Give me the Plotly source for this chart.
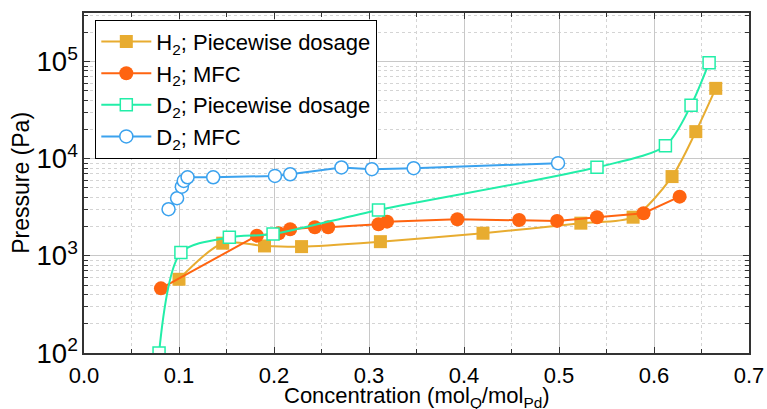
import plotly.graph_objects as go

# Hydrogen, piecewise dosage
h2_pw_x = [0.100, 0.146, 0.190, 0.229, 0.312, 0.420, 0.523, 0.578, 0.619, 0.644, 0.665]
h2_pw_p = [574, 1350, 1265, 1245, 1400, 1710, 2170, 2500, 6550, 19000, 53000]

# Hydrogen, mass flow controller
h2_mfc_x = [0.081, 0.182, 0.205, 0.217, 0.243, 0.257, 0.310, 0.319, 0.393, 0.458, 0.498, 0.540, 0.589, 0.627]
h2_mfc_p = [463, 1615, 1710, 1880, 1970, 1970, 2115, 2250, 2380, 2340, 2290, 2500, 2750, 4070]

# Deuterium, piecewise dosage
d2_pw_x = [0.079, 0.102, 0.153, 0.199, 0.310, 0.540, 0.612, 0.639, 0.658]
d2_pw_p = [100, 1080, 1550, 1680, 2970, 8150, 13600, 35500, 97500]

# Deuterium, mass flow controller
d2_mfc_x = [0.089, 0.098, 0.103, 0.105, 0.109, 0.136, 0.201, 0.217, 0.271, 0.303, 0.347, 0.499]
d2_mfc_p = [3020, 3920, 5160, 5910, 6440, 6440, 6650, 6920, 8130, 7800, 7980, 9000]

X_TITLE = "Concentration (mol<sub>Q</sub>/mol<sub>Pd</sub>)"
Y_TITLE = "Pressure (Pa)"

GOLD = "#E8AC30"
ORANGE = "#FF6410"
TEAL = "#22EEA8"
BLUE = "#3BA2EE"

fig = go.Figure()

fig.add_trace(go.Scatter(
    x=h2_pw_x, y=h2_pw_p, mode="lines+markers", name="H<sub>2</sub>; Piecewise dosage",
    line=dict(color=GOLD, width=2, shape="spline", smoothing=0.8),
    marker=dict(symbol="square", size=13, color=GOLD, line=dict(width=0)),
))
fig.add_trace(go.Scatter(
    x=h2_mfc_x, y=h2_mfc_p, mode="lines+markers", name="H<sub>2</sub>; MFC",
    line=dict(color=ORANGE, width=2),
    marker=dict(symbol="circle", size=14, color=ORANGE, line=dict(width=0)),
))
fig.add_trace(go.Scatter(
    x=d2_pw_x, y=d2_pw_p, mode="lines+markers", name="D<sub>2</sub>; Piecewise dosage",
    line=dict(color=TEAL, width=2, shape="spline", smoothing=0.8),
    marker=dict(symbol="square", size=12, color="white", line=dict(width=1.5, color=TEAL)),
))
fig.add_trace(go.Scatter(
    x=d2_mfc_x, y=d2_mfc_p, mode="lines+markers", name="D<sub>2</sub>; MFC",
    line=dict(color=BLUE, width=2),
    marker=dict(symbol="circle", size=13, color="white", line=dict(width=1.5, color=BLUE)),
))

FONT = "Liberation Sans, Arial, sans-serif"

fig.update_layout(
    width=767, height=409,
    margin=dict(l=84, r=18, t=13, b=56),
    paper_bgcolor="white", plot_bgcolor="white",
    font=dict(family=FONT, color="black", size=22),
    showlegend=True,
    legend=dict(
        x=0.017, y=0.98, xanchor="left", yanchor="top",
        bgcolor="white", bordercolor="black", borderwidth=1,
        font=dict(size=22, family=FONT), itemwidth=50, tracegroupgap=0,
    ),
    xaxis=dict(
        range=[0, 0.7], dtick=0.1, tickformat=".1f", automargin=False,
        showgrid=True, gridcolor="#c8c8c8", gridwidth=1,
        ticks="inside", ticklen=6, tickcolor="#333", mirror="ticks",
        showline=True, linecolor="#333", linewidth=1.5,
        tickfont=dict(size=22), ticklabelstandoff=2,
        zeroline=False,
        minor=dict(dtick=0.05, showgrid=True, gridcolor="#d4d4d4", griddash="dot",
                   ticks="inside", ticklen=4, tickcolor="#333"),
    ),
    yaxis=dict(
        type="log", range=[2, 5.5], dtick=1, exponentformat="power", automargin=False,
        showgrid=True, gridcolor="#c8c8c8", gridwidth=1,
        ticks="inside", ticklen=6, tickcolor="#333", mirror="ticks",
        showline=True, linecolor="#333", linewidth=1.5,
        tickfont=dict(size=22),
        minor=dict(dtick="D1", showgrid=True, gridcolor="#d4d4d4", griddash="dot",
                   ticks="inside", ticklen=4, tickcolor="#333"),
    ),
    annotations=[
        dict(
            text=X_TITLE, xref="paper", yref="paper", x=0.5, y=-0.082,
            xanchor="center", yanchor="top", showarrow=False,
            font=dict(size=22, family=FONT, color="black"),
        ),
        dict(
            text=Y_TITLE, xref="paper", yref="paper", x=-0.095, y=0.5,
            xanchor="center", yanchor="middle", textangle=-90, showarrow=False,
            font=dict(size=23, family=FONT, color="black"),
        ),
    ],
)

fig.write_html("out.html")
